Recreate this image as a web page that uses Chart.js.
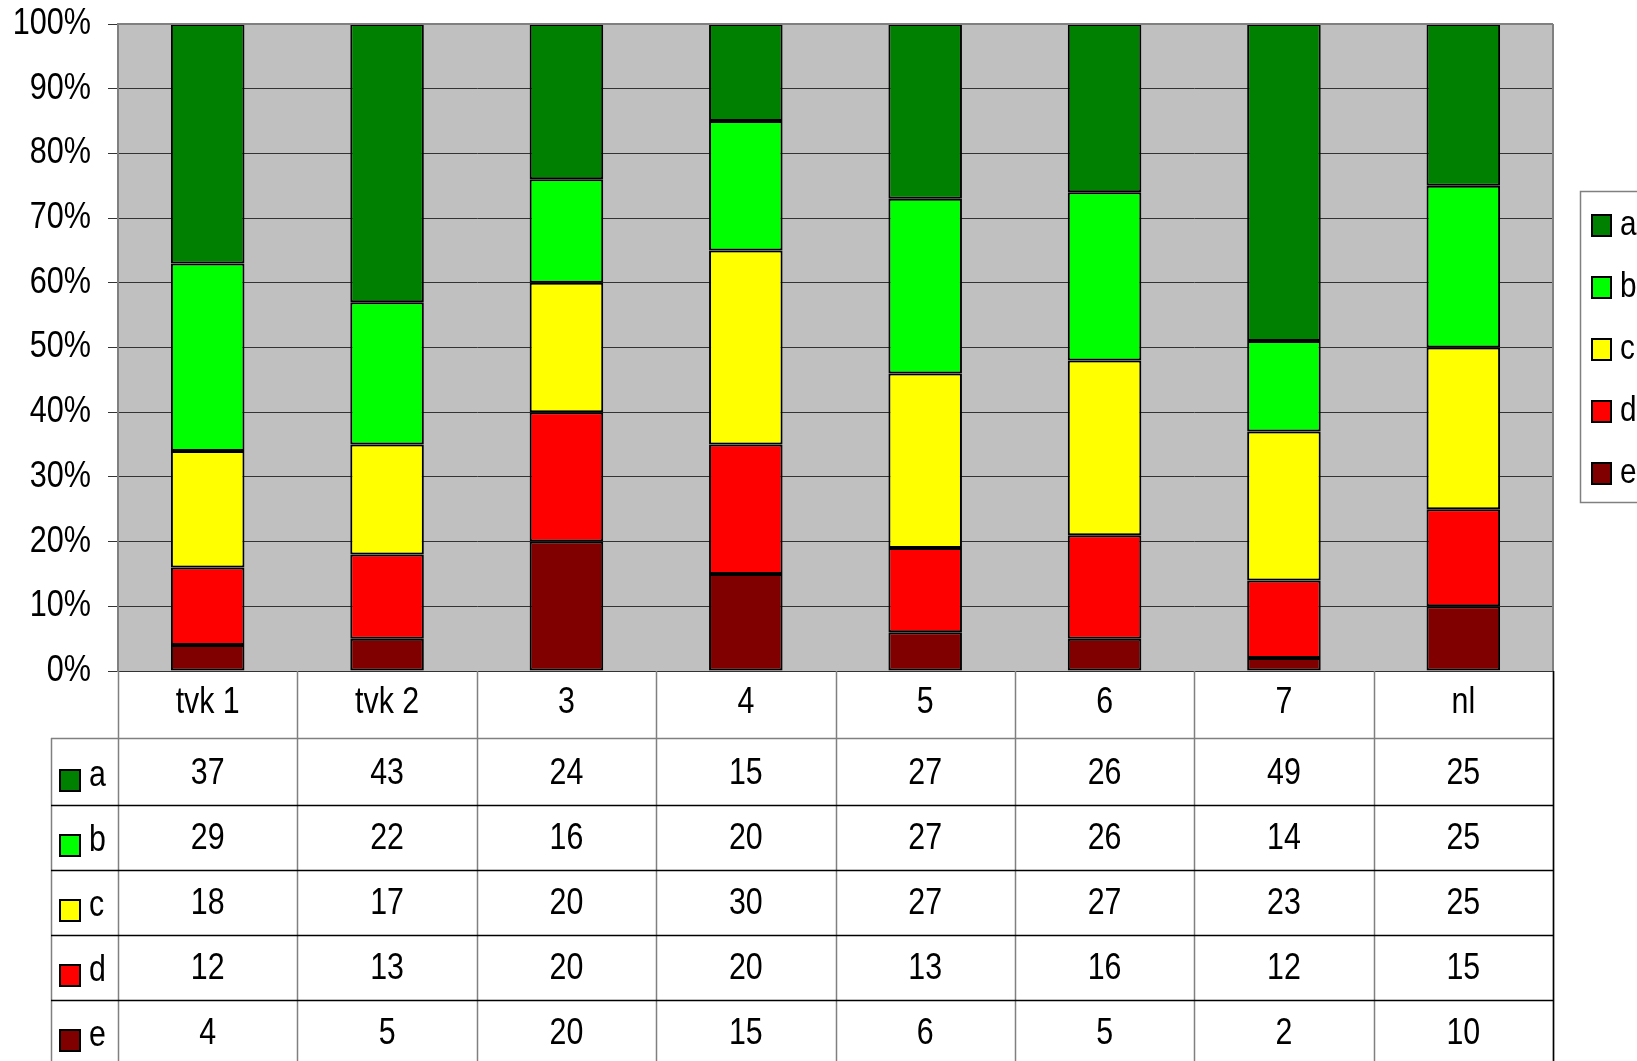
<!DOCTYPE html>
<html>
<head>
<meta charset="utf-8">
<script src="https://cdn.jsdelivr.net/npm/chart.js@4/dist/chart.umd.min.js"></script>
<style>
  body { margin: 0; background: #fff; }
  #wrap { width: 1637px; height: 1061px; }
</style>
</head>
<body>
<div id="wrap"><canvas id="myChart" width="1637" height="1061"></canvas></div>
<script>
// data (percent per group, each column sums to 100)
const categories = ['tvk 1', 'tvk 2', '3', '4', '5', '6', '7', 'nl'];
const seriesNames = ['a', 'b', 'c', 'd', 'e'];
const seriesA = [37, 43, 24, 15, 27, 26, 49, 25];
const seriesB = [29, 22, 16, 20, 27, 26, 14, 25];
const seriesC = [18, 17, 20, 30, 27, 27, 23, 25];
const seriesD = [12, 13, 20, 20, 13, 16, 12, 15];
const seriesE = [4, 5, 20, 15, 6, 5, 2, 10];
const yTicks = [0, 10, 20, 30, 40, 50, 60, 70, 80, 90, 100];

const colors = ['#008000', '#00ff00', '#ffff00', '#ff0000', '#800000'];
const allSeries = [seriesA, seriesB, seriesC, seriesD, seriesE];
const FONT = '"Liberation Sans", Arial, sans-serif';

// bottom of the stack first: e, d, c, b, a
const datasets = [];
for (let i = allSeries.length - 1; i >= 0; i--) {
  datasets.push({
    label: seriesNames[i],
    data: allSeries[i],
    backgroundColor: colors[i],
    borderColor: '#000',
    borderWidth: 2,
    borderSkipped: false,
    categoryPercentage: 1,
    barPercentage: 0.41
  });
}

// no narrow font installed, so squeeze the regular one
function narrowText(c, txt, x, y, align, sx) {
  c.save();
  c.translate(x, y);
  c.scale(sx, 1);
  c.textAlign = align;
  c.fillText(txt, 0, 0);
  c.restore();
}

const backdrop = {
  id: 'backdrop',
  beforeDraw(chart) {
    const c = chart.ctx, a = chart.chartArea;
    c.save();
    c.fillStyle = '#fff';
    c.fillRect(0, 0, chart.width, chart.height);
    c.fillStyle = '#c0c0c0';
    c.fillRect(a.left, a.top, a.right - a.left, a.bottom - a.top);
    c.restore();
  },
  afterDatasetsDraw(chart) {
    const c = chart.ctx, a = chart.chartArea, ys = chart.scales.y;
    c.save();
    c.strokeStyle = '#808080';
    c.lineWidth = 2;
    c.beginPath();
    c.moveTo(a.left, a.top);
    c.lineTo(a.right, a.top);
    c.moveTo(a.right, a.top);
    c.lineTo(a.right, a.bottom);
    c.stroke();
    // y tick labels
    c.fillStyle = '#000';
    c.font = '36px ' + FONT;
    c.textBaseline = 'middle';
    yTicks.forEach(v => {
      narrowText(c, v + '%', 91, ys.getPixelForValue(v), 'right', 0.85);
    });
    c.restore();
  }
};

// data table below the plot, columns follow the x scale
const dataTable = {
  id: 'dataTable',
  afterDraw(chart) {
    const c = chart.ctx, a = chart.chartArea, xs = chart.scales.x;
    const n = categories.length;
    const colW = (a.right - a.left) / n;
    const headTop = a.bottom, headBot = a.bottom + 67;
    const rowH = 65;
    const tableLeft = 51;
    const bottom = chart.height + 5;
    c.save();
    c.lineWidth = 1.5;

    // vertical lines
    c.strokeStyle = '#808080';
    c.beginPath();
    for (let i = 0; i <= n; i++) {
      const x = Math.round(a.left + colW * i) + 0.5;
      c.moveTo(x, headTop);
      c.lineTo(x, bottom);
    }
    c.moveTo(tableLeft + 0.5, headBot);
    c.lineTo(tableLeft + 0.5, bottom);
    c.moveTo(tableLeft, headBot + 0.5);
    c.lineTo(a.right, headBot + 0.5);
    c.stroke();

    // row separators
    c.strokeStyle = '#000';
    c.beginPath();
    for (let r = 1; r < seriesNames.length; r++) {
      const y = Math.round(headBot + 2 + rowH * r) + 0.5;
      c.moveTo(tableLeft, y);
      c.lineTo(a.right, y);
    }
    c.moveTo(a.right + 0.5, headTop);
    c.lineTo(a.right + 0.5, bottom);
    c.stroke();

    c.fillStyle = '#000';
    c.font = '37px ' + FONT;
    c.textBaseline = 'middle';
    categories.forEach((cat, i) => {
      narrowText(c, cat, xs.getPixelForValue(i), headTop + 32, 'center', 0.82);
    });
    allSeries.forEach((vals, r) => {
      const cy = headBot + 36 + rowH * r;
      vals.forEach((v, i) => {
        narrowText(c, String(v), xs.getPixelForValue(i), cy, 'center', 0.82);
      });
      c.fillStyle = colors[r];
      c.fillRect(60, cy - 4, 20, 21);
      c.strokeStyle = '#000';
      c.lineWidth = 2;
      c.strokeRect(60, cy - 4, 20, 21);
      c.fillStyle = '#000';
      narrowText(c, seriesNames[r], 89, cy + 2, 'left', 0.82);
    });
    c.restore();
  }
};

// legend box at the right, partly cut by the canvas edge
const sideLegend = {
  id: 'sideLegend',
  afterDraw(chart) {
    const c = chart.ctx;
    const bx = 1580, by = 191, bh = 311;
    c.save();
    c.fillStyle = '#fff';
    c.fillRect(bx, by, 80, bh);
    c.strokeStyle = '#808080';
    c.lineWidth = 1.5;
    c.strokeRect(bx + 0.5, by + 0.5, 80, bh);
    c.font = '35px ' + FONT;
    c.textBaseline = 'middle';
    seriesNames.forEach((name, i) => {
      const cy = 225 + 62 * i;
      c.fillStyle = colors[i];
      c.fillRect(1592, cy - 10, 19, 21);
      c.strokeStyle = '#000';
      c.lineWidth = 2;
      c.strokeRect(1592, cy - 10, 19, 21);
      c.fillStyle = '#000';
      narrowText(c, name, 1620, cy, 'left', 0.85);
    });
    c.restore();
  }
};

function myLoadFunction()
{
const ctx = document.getElementById('myChart').getContext('2d');
const myChart = new Chart(ctx, {
    type: 'bar',
    data: {
        labels: categories,
        datasets: datasets
    },
    options: {
        responsive: false,
        animation: false,
        devicePixelRatio: 1,
        layout: { padding: { left: 0, top: 24, right: 84, bottom: 390 } },
        plugins: {
            legend: { display: false },
            tooltip: { enabled: false }
        },
        scales: {
            x: {
                stacked: true,
                display: false
            },
            y: {
                stacked: true,
                min: 0,
                max: 100,
                afterFit: function (scale) { scale.width = 118; },
                afterBuildTicks: function (scale) {
                    scale.ticks = yTicks.map(v => ({ value: v }));
                },
                ticks: { display: false },
                grid: {
                    color: '#333',
                    lineWidth: 1,
                    tickLength: 10,
                    drawTicks: true
                },
                border: { color: '#808080', width: 2 }
            }
        }
    },
    plugins: [backdrop, dataTable, sideLegend]
});
}
document.addEventListener('DOMContentLoaded', myLoadFunction);
</script>
</body>
</html>
